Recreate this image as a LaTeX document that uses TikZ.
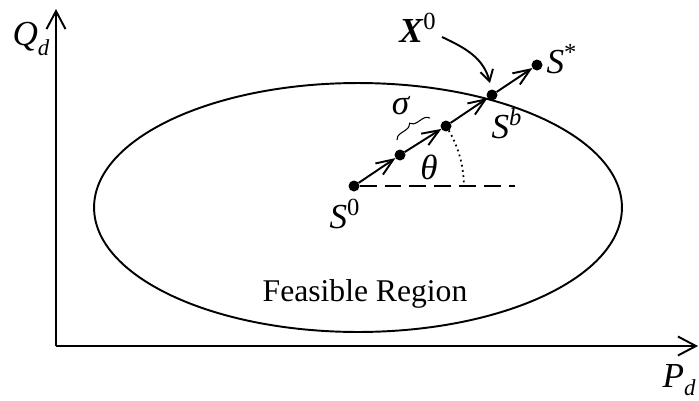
\documentclass[tikz,border=0pt]{standalone}
\usepackage{fontspec}
\setmainfont{Liberation Serif}
\usetikzlibrary{arrows.meta,decorations.pathreplacing}
\tikzset{
  axis/.style={line width=1.1pt, -{Straight Barb[length=0.36cm,width=0.38cm,line width=1.1pt]}},
  region/.style={line width=1.1pt},
  dot/.style={circle, fill=black, inner sep=0pt, minimum size=0.22cm, outer sep=0pt},
  walk/.style={line width=1.1pt, -{Straight Barb[length=0.34cm,width=0.27cm,line width=1.1pt]}},
  pointer/.style={line width=1.1pt, -{Straight Barb[length=0.22cm,width=0.26cm,line width=1.1pt]}},
  lbl/.style={font=\fontsize{20}{24}\selectfont, inner sep=0pt},
  txt/.style={font=\fontsize{18}{22}\selectfont, inner sep=0pt},
}

\begin{document}
\begin{tikzpicture}[x=0.02cm, y=0.02cm]
\useasboundingbox (0,0) rectangle (699,400);
% axes
\coordinate (origin) at (56,54);
\coordinate (qtop) at (56,391);
\coordinate (pend) at (698,54);
\draw[axis] (origin) -- (qtop);
\draw[axis] (origin) -- (pend);
\node[lbl] (qlab) at (31,361) {\textit{Q}\raisebox{-0.3em}{\fontsize{13}{13}\selectfont\textit{d}}};
\node[lbl, anchor=base east] (plab) at (696,13) {\textit{P}\raisebox{-0.25em}{\fontsize{13}{13}\selectfont\textit{d}}};
% feasible region
\draw[region] (358,192.5) ellipse [x radius=5.28cm, y radius=2.49cm];
\node[txt] (feas) at (365,106) {Feasible Region};
% search points
\node[dot] (s0) at (354,214) {};
\node[dot] (s1) at (400,245) {};
\node[dot] (s2) at (446,274) {};
\node[dot] (sb) at (492,305) {};
\node[dot] (ss) at (537,335) {};
\draw[walk] (s0) -- (s1);
\draw[walk] (s1) -- (s2);
\draw[walk] (s2) -- (sb);
\draw[walk] (sb) -- (ss);
% reference direction and angle
\coordinate (hz) at (515,214);
\draw[line width=1.1pt, dash pattern=on 0.34cm off 0.16cm] (s0) -- (hz);
\draw[line width=1pt, dotted] (s2.center) arc[start angle=33.1, end angle=0, radius=2.2cm];
\node[lbl] (theta) at (429,233) {\textit{θ}};
% step size
\draw[line width=0.6pt, decorate, decoration={brace, amplitude=0.14cm}] (397,260) -- (430,282);
\node[lbl] (sigma) at (401,294) {\textit{σ}};
% point labels
\node[lbl] (s0lab) at (345,186) {\textit{S}\textsuperscript{0}};
\node[lbl] (sblab) at (507,276) {\textit{S}\textsuperscript{\textit{b}}};
\node[lbl] (sslab) at (562,341) {\textit{S}\textsuperscript{*}};
\node[lbl] (xlab) at (418,372) {\textbf{\textit{X}}\textsuperscript{0}};
\coordinate (xfrom) at (442,363);
\coordinate (xto) at (490,317);
\draw[pointer] (xfrom) to[out=-25, in=105] (xto);
\end{tikzpicture}
\end{document}
